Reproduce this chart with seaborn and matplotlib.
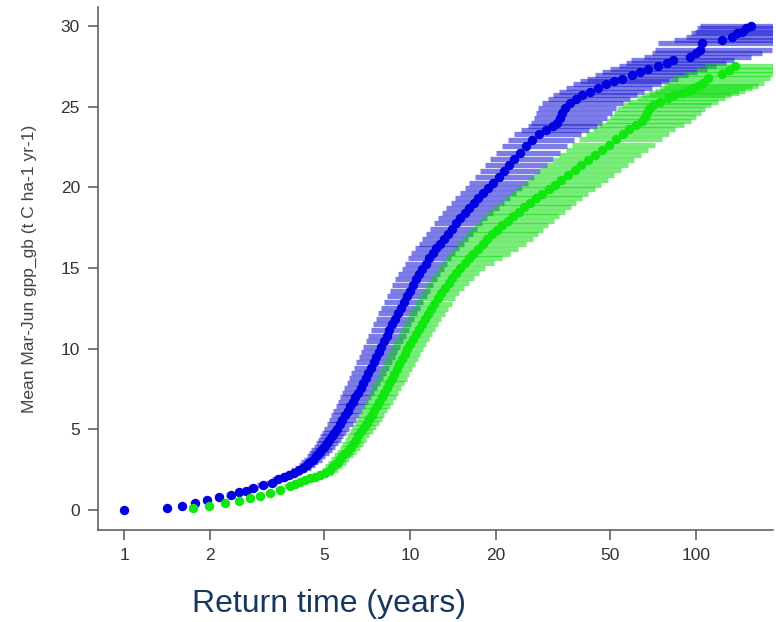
import matplotlib
matplotlib.use("Agg")
import matplotlib.pyplot as plt
import matplotlib.ticker as mticker
import pandas as pd
import seaborn as sns

# Return time (years) / mean Mar-Jun gpp / confidence interval on return time
blue_T = [1.00, 1.41, 1.60, 1.77, 1.95, 2.15, 2.36, 2.53, 2.68, 2.83,
          3.05, 3.28, 3.46, 3.62, 3.78, 3.92, 4.08, 4.22, 4.35, 4.46,
          4.58, 4.69, 4.80, 4.90, 5.00, 5.11, 5.22, 5.32, 5.43, 5.55,
          5.67, 5.80, 5.92, 6.05, 6.18, 6.31, 6.44, 6.58, 6.72, 6.86,
          7.00, 7.15, 7.30, 7.46, 7.62, 7.78, 7.95, 8.12, 8.30, 8.48,
          8.67, 8.87, 9.07, 9.28, 9.50, 9.73, 9.97, 10.22, 10.48, 10.76,
          11.05, 11.36, 11.68, 12.02, 12.38, 12.76, 13.16, 13.58, 14.02, 14.50,
          15.00, 15.55, 16.12, 16.72, 17.36, 18.05, 18.78, 19.55, 20.40, 21.30,
          22.20, 23.20, 24.30, 25.50, 26.80, 28.30, 29.90, 31.60, 32.60, 33.40,
          33.90, 34.80, 36.20, 38.20, 40.00, 42.60, 45.50, 48.60, 51.50, 55.00,
          59.60, 63.70, 68.00, 73.80, 79.00, 83.00, 95.00, 100.0, 103.0, 105.0,
          123.0, 134.0, 139.0, 145.0, 150.0, 156.0]
blue_gpp = [0.00, 0.14, 0.27, 0.45, 0.62, 0.79, 0.91, 1.10, 1.20, 1.35,
            1.53, 1.66, 1.90, 2.02, 2.18, 2.30, 2.45, 2.62, 2.78, 2.95,
            3.12, 3.32, 3.52, 3.72, 3.92, 4.13, 4.36, 4.58, 4.80, 5.05,
            5.32, 5.60, 5.88, 6.15, 6.42, 6.70, 6.98, 7.28, 7.58, 7.90,
            8.20, 8.52, 8.82, 9.15, 9.48, 9.80, 10.12, 10.45, 10.80, 11.15,
            11.50, 11.85, 12.20, 12.55, 12.90, 13.25, 13.60, 13.95, 14.30, 14.62,
            14.95, 15.28, 15.60, 15.92, 16.22, 16.52, 16.82, 17.12, 17.45, 17.78,
            18.10, 18.42, 18.75, 19.05, 19.35, 19.65, 19.98, 20.30, 20.66, 21.02,
            21.40, 21.78, 22.15, 22.55, 22.92, 23.30, 23.55, 23.78, 24.00, 24.28,
            24.62, 24.90, 25.20, 25.48, 25.70, 25.93, 26.18, 26.42, 26.58, 26.70,
            26.97, 27.18, 27.34, 27.55, 27.72, 27.90, 28.10, 28.30, 28.50, 28.93,
            29.14, 29.35, 29.55, 29.65, 29.86, 30.00]
blue_lo = [0.98, 1.38, 1.56, 1.72, 1.89, 2.08, 2.28, 2.44, 2.58, 2.72,
           2.92, 3.13, 3.29, 3.44, 3.58, 3.71, 3.85, 3.97, 4.08, 4.17,
           4.27, 4.36, 4.44, 4.52, 4.60, 4.68, 4.77, 4.85, 4.93, 5.02,
           5.11, 5.21, 5.30, 5.40, 5.50, 5.59, 5.69, 5.79, 5.90, 6.00,
           6.11, 6.23, 6.35, 6.48, 6.61, 6.74, 6.87, 7.00, 7.14, 7.29,
           7.43, 7.60, 7.76, 7.93, 8.11, 8.30, 8.49, 8.68, 8.89, 9.11,
           9.35, 9.60, 9.85, 10.12, 10.41, 10.72, 11.04, 11.38, 11.74, 12.12,
           12.52, 12.95, 13.40, 13.88, 14.40, 14.95, 15.54, 16.15, 16.85, 17.55,
           18.30, 19.10, 20.00, 21.00, 22.00, 23.20, 24.50, 25.80, 26.60, 27.20,
           27.50, 28.00, 29.00, 30.40, 31.60, 33.20, 35.20, 37.20, 39.20, 41.50,
           44.50, 47.00, 50.00, 54.00, 57.00, 59.50, 66.00, 70.00, 72.00, 73.50,
           84.0, 92.0, 96.0, 99.0, 101.0, 103.0]
blue_hi = [1.02, 1.45, 1.64, 1.82, 2.01, 2.22, 2.44, 2.62, 2.78, 2.94,
           3.18, 3.43, 3.63, 3.80, 3.99, 4.15, 4.33, 4.49, 4.64, 4.77,
           4.92, 5.05, 5.20, 5.33, 5.45, 5.58, 5.72, 5.85, 5.99, 6.14,
           6.30, 6.47, 6.63, 6.80, 6.97, 7.14, 7.32, 7.50, 7.68, 7.87,
           8.05, 8.25, 8.44, 8.63, 8.83, 9.03, 9.23, 9.44, 9.66, 9.89,
           10.12, 10.37, 10.62, 10.88, 11.15, 11.44, 11.74, 12.06, 12.40, 12.76,
           13.12, 13.52, 13.95, 14.40, 14.88, 15.40, 15.96, 16.55, 17.20, 17.90,
           18.65, 19.50, 20.40, 21.30, 22.30, 23.40, 24.60, 25.80, 27.20, 28.60,
           30.10, 31.70, 33.40, 35.30, 37.40, 39.80, 42.20, 45.00, 47.00, 49.00,
           50.80, 52.60, 55.40, 58.80, 62.00, 66.00, 70.50, 75.50, 80.50, 86.50,
           94.0, 101.0, 109.0, 118.0, 127.0, 136.0, 156.0, 170.0, 185.0, 200.0,
           230.0, 250.0, 260.0, 270.0, 280.0, 290.0]

green_T = [1.74, 1.99, 2.25, 2.53, 2.76, 2.99, 3.24, 3.51, 3.80, 3.96,
           4.12, 4.30, 4.47, 4.66, 4.85, 5.05, 5.25, 5.40, 5.55, 5.70,
           5.85, 6.00, 6.15, 6.30, 6.45, 6.60, 6.75, 6.90, 7.05, 7.20,
           7.35, 7.50, 7.65, 7.80, 7.96, 8.12, 8.28, 8.45, 8.62, 8.80,
           8.98, 9.17, 9.37, 9.57, 9.78, 10.00, 10.23, 10.47, 10.72, 10.98,
           11.25, 11.54, 11.84, 12.16, 12.50, 12.86, 13.24, 13.64, 14.06, 14.50,
           15.00, 15.52, 16.08, 16.66, 17.28, 17.94, 18.64, 19.38, 20.18, 21.04,
           21.96, 22.94, 24.00, 25.14, 26.36, 27.66, 29.06, 30.56, 32.16, 33.88,
           35.72, 37.70, 39.80, 42.00, 44.40, 47.00, 49.60, 52.40, 55.40, 58.50,
           61.50, 64.60, 66.20, 67.20, 68.50, 71.00, 75.00, 80.00, 84.00, 89.20,
           94.00, 98.00, 102.0, 106.0, 110.0, 123.0, 131.0, 137.0]
green_gpp = [0.10, 0.25, 0.41, 0.58, 0.72, 0.87, 1.03, 1.24, 1.49, 1.62,
             1.75, 1.86, 1.96, 2.06, 2.17, 2.32, 2.48, 2.70, 2.92, 3.15,
             3.38, 3.62, 3.86, 4.10, 4.36, 4.62, 4.88, 5.14, 5.40, 5.66,
             5.92, 6.18, 6.45, 6.72, 7.00, 7.28, 7.56, 7.85, 8.14, 8.44,
             8.74, 9.04, 9.34, 9.64, 9.95, 10.26, 10.57, 10.88, 11.20, 11.52,
             11.84, 12.16, 12.48, 12.80, 13.12, 13.44, 13.76, 14.08, 14.40, 14.70,
             15.00, 15.30, 15.60, 15.90, 16.20, 16.50, 16.80, 17.08, 17.36, 17.64,
             17.92, 18.20, 18.48, 18.76, 19.04, 19.32, 19.60, 19.88, 20.16, 20.46,
             20.76, 21.06, 21.36, 21.68, 22.00, 22.32, 22.64, 22.98, 23.30, 23.60,
             23.86, 24.10, 24.38, 24.62, 24.85, 25.08, 25.30, 25.52, 25.70, 25.83,
             25.98, 26.14, 26.30, 26.45, 26.78, 27.02, 27.30, 27.52]
green_lo = [1.70, 1.94, 2.19, 2.46, 2.68, 2.90, 3.13, 3.38, 3.64, 3.78,
            3.92, 4.08, 4.23, 4.40, 4.57, 4.74, 4.92, 5.04, 5.17, 5.30,
            5.42, 5.55, 5.67, 5.79, 5.92, 6.04, 6.16, 6.28, 6.40, 6.52,
            6.64, 6.76, 6.88, 7.00, 7.12, 7.25, 7.38, 7.51, 7.64, 7.79,
            7.93, 8.08, 8.24, 8.40, 8.57, 8.75, 8.93, 9.12, 9.32, 9.52,
            9.74, 9.96, 10.20, 10.44, 10.70, 10.98, 11.26, 11.56, 11.88, 12.20,
            12.56, 12.92, 13.32, 13.74, 14.18, 14.65, 15.15, 15.68, 16.25, 16.85,
            17.50, 18.20, 18.95, 19.75, 20.60, 21.50, 22.50, 23.50, 24.60, 25.80,
            27.10, 28.50, 30.00, 31.60, 33.30, 35.10, 37.00, 39.00, 41.20, 43.60,
            46.00, 48.50, 50.00, 51.50, 53.00, 55.00, 58.00, 62.00, 65.00, 68.50,
            72.00, 75.00, 77.50, 80.00, 83.00, 91.00, 100.0, 108.0]
green_hi = [1.78, 2.04, 2.31, 2.60, 2.84, 3.08, 3.35, 3.64, 3.96, 4.15,
            4.33, 4.53, 4.72, 4.93, 5.14, 5.37, 5.60, 5.78, 5.96, 6.14,
            6.31, 6.49, 6.67, 6.85, 7.03, 7.21, 7.40, 7.58, 7.77, 7.96,
            8.14, 8.33, 8.52, 8.71, 8.91, 9.11, 9.31, 9.52, 9.73, 9.95,
            10.17, 10.40, 10.64, 10.88, 11.13, 11.39, 11.66, 11.94, 12.24, 12.55,
            12.87, 13.22, 13.59, 13.98, 14.40, 14.85, 15.50, 16.10, 16.80, 17.50,
            18.30, 19.60, 20.90, 22.30, 23.80, 25.50, 27.00, 28.10, 29.30, 30.50,
            31.80, 33.30, 34.80, 36.50, 38.20, 40.10, 42.10, 44.30, 46.60, 49.10,
            51.80, 54.70, 57.70, 60.90, 64.40, 68.20, 71.90, 76.00, 80.30, 84.80,
            91.00, 96.00, 100.0, 104.0, 108.0, 113.0, 119.0, 126.0, 133.0, 141.0,
            149.0, 157.0, 165.0, 173.0, 182.0, 200.0, 215.0, 225.0]

x_ticks = [1, 2, 5, 10, 20, 50, 100]
x_tick_labels = ["1", "2", "5", "10", "20", "50", "100"]
y_ticks = [0, 5, 10, 15, 20, 25, 30]

sns.set_style("ticks")
plt.rcParams["font.family"] = ["Liberation Sans", "DejaVu Sans"]

df_blue = pd.DataFrame({"return_time": blue_T, "gpp": blue_gpp,
                        "lo": blue_lo, "hi": blue_hi})
df_green = pd.DataFrame({"return_time": green_T, "gpp": green_gpp,
                         "lo": green_lo, "hi": green_hi})

fig = plt.figure(figsize=(7.76, 6.22), dpi=100)
ax = fig.add_axes([0.1263, 0.1479, 0.8698, 0.8408])

# barras de incerteza + pontos, primeiro a serie azul, depois a verde
ax.hlines(df_blue["gpp"], df_blue["lo"], df_blue["hi"],
          color="#2020d8", alpha=0.58, lw=3.8, zorder=1)
sns.scatterplot(data=df_blue, x="return_time", y="gpp", color="#0000e0",
                s=46, linewidth=0, ax=ax, zorder=2)
ax.hlines(df_green["gpp"], df_green["lo"], df_green["hi"],
          color="#00dc00", alpha=0.52, lw=3.8, zorder=3)
sns.scatterplot(data=df_green, x="return_time", y="gpp", color="#10e610",
                s=46, linewidth=0, ax=ax, zorder=4)

ax.set_xscale("log")
ax.set_xlim(0.811, 186)
ax.set_ylim(-1.24, 31.18)
ax.set_xticks(x_ticks)
ax.set_xticklabels(x_tick_labels)
ax.xaxis.set_minor_locator(mticker.NullLocator())
ax.set_yticks(y_ticks)

ax.set_xlabel("")
ax.set_ylabel("Mean Mar-Jun gpp_gb (t C ha-1 yr-1)", fontsize=12.5, color="#444444")
ax.yaxis.set_label_coords(-0.0904, 0.5)

sns.despine(ax=ax)
for side in ["left", "bottom"]:
    ax.spines[side].set_color("#555555")
    ax.spines[side].set_linewidth(1.1)
ax.tick_params(length=7, width=1.1, color="#555555", labelsize=12.5,
               labelcolor="#333333", pad=6)

fig.text(0.247, 0.0166, "Return time (years)", fontsize=23, color="#17375e",
         ha="left", va="baseline")

fig.savefig("out.png", dpi=100)
